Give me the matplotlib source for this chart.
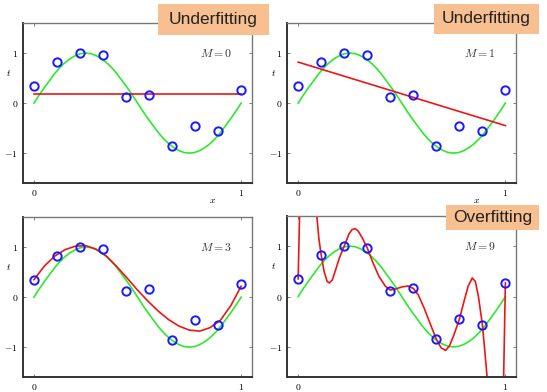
import matplotlib
matplotlib.use("Agg")
import matplotlib.pyplot as plt
from matplotlib.patches import Rectangle

plt.rcParams["mathtext.fontset"] = "cm"

# observed points
x_data = [0.0, 0.111, 0.222, 0.333, 0.444, 0.556, 0.667, 0.778, 0.889, 1.0]
t_data = [0.35, 0.83, 1.00, 0.97, 0.12, 0.16, -0.85, -0.45, -0.56, 0.26]

# green curve, every 0.025
x_true = [i / 40 for i in range(41)]
t_true = [0.0, 0.16, 0.31, 0.45, 0.59, 0.71, 0.81, 0.89, 0.95, 0.99, 1.0,
          0.99, 0.95, 0.89, 0.81, 0.71, 0.59, 0.45, 0.31, 0.16, 0.0,
          -0.16, -0.31, -0.45, -0.59, -0.71, -0.81, -0.89, -0.95, -0.99, -1.0,
          -0.99, -0.95, -0.89, -0.81, -0.71, -0.59, -0.45, -0.31, -0.16, 0.0]

# red fits
x_m0 = [0.0, 1.0]
t_m0 = [0.18, 0.18]
x_m1 = [0.0, 1.0]
t_m1 = [0.82, -0.45]
x_m3 = [0.0, 0.05, 0.1, 0.15, 0.2, 0.25, 0.3, 0.35, 0.4, 0.45, 0.5,
        0.55, 0.6, 0.65, 0.7, 0.75, 0.8, 0.85, 0.9, 0.95, 1.0]
t_m3 = [0.35, 0.62, 0.82, 0.95, 1.02, 1.03, 0.96, 0.82, 0.61, 0.38, 0.14,
        -0.08, -0.28, -0.45, -0.58, -0.66, -0.68, -0.61, -0.46, -0.17, 0.22]
x_m9 = [0.0, 0.01, 0.05, 0.08, 0.09, 0.1, 0.111, 0.125, 0.14, 0.15, 0.165,
        0.18, 0.2, 0.222, 0.245, 0.26, 0.275, 0.29, 0.31, 0.333, 0.36, 0.39,
        0.42, 0.444, 0.47, 0.5, 0.53, 0.556, 0.58, 0.61, 0.64, 0.667, 0.69,
        0.712, 0.73, 0.75, 0.778, 0.8, 0.82, 0.84, 0.855, 0.87, 0.889, 0.9,
        0.915, 0.95, 0.985, 0.992, 1.0]
t_m9 = [0.35, 2.2, 6.0, 2.4, 1.6, 1.15, 0.83, 0.5, 0.3, 0.27, 0.33,
        0.52, 0.78, 1.0, 1.24, 1.33, 1.35, 1.3, 1.16, 0.97, 0.68, 0.4,
        0.21, 0.13, 0.15, 0.19, 0.21, 0.16, 0.03, -0.25, -0.57, -0.85, -1.02,
        -1.07, -0.98, -0.78, -0.45, -0.1, 0.2, 0.37, 0.3, 0.0, -0.56, -1.05,
        -1.75, -5.0, -2.5, -1.5, 0.27]

panels = [
    ("$M = 0$", x_m0, t_m0, [0.042, 0.533, 0.419, 0.408]),
    ("$M = 1$", x_m1, t_m1, [0.525, 0.533, 0.419, 0.408]),
    ("$M = 3$", x_m3, t_m3, [0.042, 0.038, 0.419, 0.408]),
    ("$M = 9$", x_m9, t_m9, [0.525, 0.038, 0.419, 0.411]),
]

fig = plt.figure(figsize=(5.47, 3.92), dpi=100)

for label, xf, tf, pos in panels:
    ax = fig.add_axes(pos)
    ax.plot(x_true, t_true, color="#2ee82e", lw=1.2)
    ax.plot(xf, tf, color="#ee1515", lw=1.2)
    ax.plot(x_data, t_data, "o", mfc="none", mec="#1a1aff", ms=6, mew=1.4)
    ax.set_xlim(-0.053, 1.053)
    ax.set_ylim(-1.6, 1.6)
    ax.set_xticks([0, 1])
    ax.set_xticklabels(["$0$", "$1$"])
    ax.set_yticks([-1, 0, 1])
    ax.set_yticklabels(["$-1$", "$0$", "$1$"])
    ax.tick_params(direction="in", length=2, width=0.6, labelsize=7,
                   top=True, right=True, color="#666666", pad=3.5)
    for side in ["left", "bottom"]:
        ax.spines[side].set_linewidth(1.4)
        ax.spines[side].set_color("#333333")
    for side in ["top", "right"]:
        ax.spines[side].set_linewidth(1.0)
        ax.spines[side].set_color("#777777")
    ax.text(0.955, 1.0, label, ha="right", va="center", fontsize=8.5, color="#333333")
    ax.text(-0.12, 0.6, "$t$", ha="center", va="center", fontsize=7, clip_on=False)
    ax.text(0.86, -1.93, "$x$", ha="center", va="center", fontsize=7, clip_on=False)

# labels in orange boxes (figure pixels from the top-left)
boxes = [
    ("Underfitting", 158, 4, 111, 31),
    ("Underfitting", 434, 4, 105, 30),
    ("Overfitting", 446, 205, 93, 25),
]
W, H = 547, 392
for text, bx, by, bw, bh in boxes:
    fig.add_artist(Rectangle((bx / W, 1 - (by + bh) / H), bw / W, bh / H,
                             transform=fig.transFigure, facecolor="#f8bf90",
                             edgecolor="none", zorder=5))
    fig.text((bx + bw / 2) / W, 1 - (by + bh / 2) / H, text, ha="center",
             va="center", fontsize=12.5, color="#222222",
             family="Liberation Sans", zorder=6)

fig.savefig("out.png", dpi=100)
